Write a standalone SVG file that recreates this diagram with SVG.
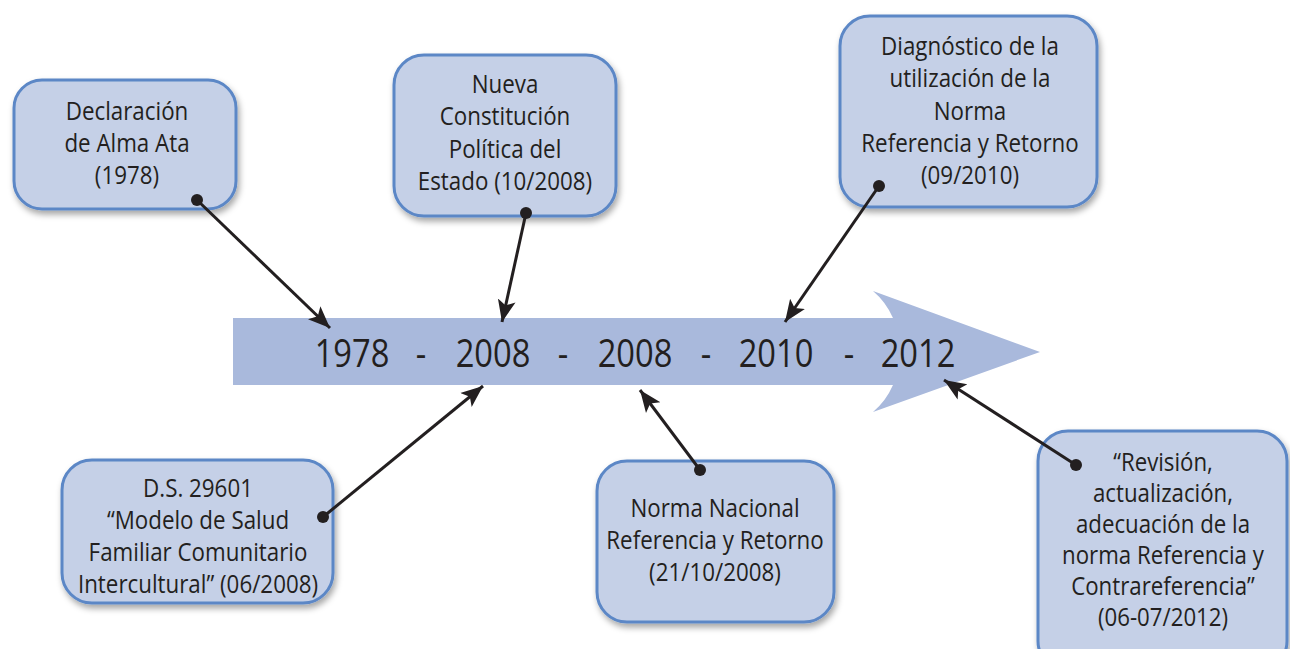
<svg xmlns="http://www.w3.org/2000/svg" width="1290" height="649" viewBox="0 0 1290 649">
<defs>
<filter id="sh" x="-10%" y="-10%" width="125%" height="130%">
<feDropShadow dx="2" dy="4" stdDeviation="3" flood-color="#000" flood-opacity="0.35"/>
</filter>
<marker id="ah" markerWidth="24" markerHeight="20" viewBox="0 0 24 20" refX="22" refY="10" orient="auto" markerUnits="userSpaceOnUse">
<path d="M0,1 L22,10 L0,19 L5,10 Z" fill="#231f20"/>
</marker>
<style>
.box{fill:#c5d0e7;stroke:#5b87c6;stroke-width:3;filter:url(#sh)}
.t{font-family:"Open Sans",Lato,"Liberation Sans",sans-serif;font-size:26px;fill:#231f20;text-anchor:middle}
.s{font-size:25px}
.y{font-family:"Open Sans",Lato,"Liberation Sans",sans-serif;font-size:38px;fill:#231f20;text-anchor:middle}
.c{stroke:#231f20;stroke-width:3;fill:none;marker-end:url(#ah)}
.d{fill:#231f20}
</style>
</defs>
<rect width="1290" height="649" fill="#fff"/>
<g id="timeline">
<path d="M233,318 L893,318 Q886,302 873,291 L1040,352 L873,412 Q886,401 893,385 L233,385 Z" fill="#a9b9dc"/>
<g transform="translate(352 0) scale(0.86 1)"><text class="y" x="0" y="367">1978</text></g>
<g transform="translate(421 0) scale(0.86 1)"><text class="y" x="0" y="367">-</text></g>
<g transform="translate(493 0) scale(0.86 1)"><text class="y" x="0" y="367">2008</text></g>
<g transform="translate(563 0) scale(0.86 1)"><text class="y" x="0" y="367">-</text></g>
<g transform="translate(635 0) scale(0.86 1)"><text class="y" x="0" y="367">2008</text></g>
<g transform="translate(706 0) scale(0.86 1)"><text class="y" x="0" y="367">-</text></g>
<g transform="translate(776 0) scale(0.86 1)"><text class="y" x="0" y="367">2010</text></g>
<g transform="translate(849 0) scale(0.86 1)"><text class="y" x="0" y="367">-</text></g>
<g transform="translate(918 0) scale(0.86 1)"><text class="y" x="0" y="367">2012</text></g>
</g>
<g id="n1">
<rect class="box" x="14" y="80" width="222" height="129" rx="28"/>
<g transform="translate(127 0) scale(0.86 1)">
<text class="t" x="0" y="120">Declaración</text>
<text class="t" x="0" y="152">de Alma Ata</text>
<text class="t" x="0" y="184">(1978)</text>
</g>
</g>
<g id="n2">
<rect class="box" x="394" y="55" width="222" height="161" rx="30"/>
<g transform="translate(505 0) scale(0.86 1)">
<text class="t" x="0" y="93">Nueva</text>
<text class="t" x="0" y="125">Constitución</text>
<text class="t" x="0" y="158">Política del</text>
<text class="t" x="0" y="190">Estado (10/2008)</text>
</g>
</g>
<g id="n3">
<rect class="box" x="840" y="16" width="257" height="191" rx="30"/>
<g transform="translate(970 0) scale(0.86 1)">
<text class="t" x="0" y="55">Diagnóstico de la</text>
<text class="t" x="0" y="87">utilización de la</text>
<text class="t" x="0" y="120">Norma</text>
<text class="t" x="0" y="152">Referencia y Retorno</text>
<text class="t" x="0" y="184">(09/2010)</text>
</g>
</g>
<g id="n4">
<rect class="box" x="62" y="460" width="271" height="143" rx="30"/>
<g transform="translate(198 0) scale(0.86 1)">
<text class="t" x="0" y="497">D.S. 29601</text>
<text class="t" x="0" y="529">“Modelo de Salud</text>
<text class="t" x="0" y="561">Familiar Comunitario</text>
<text class="t" x="0" y="593">Intercultural” (06/2008)</text>
</g>
</g>
<g id="n5">
<rect class="box" x="597" y="461" width="237" height="161" rx="30"/>
<g transform="translate(715 0) scale(0.86 1)">
<text class="t" x="0" y="517">Norma Nacional</text>
<text class="t" x="0" y="549">Referencia y Retorno</text>
<text class="t" x="0" y="581">(21/10/2008)</text>
</g>
</g>
<g id="n6">
<rect class="box" x="1038" y="431" width="249" height="240" rx="30"/>
<g transform="translate(1163 0) scale(0.89 1)">
<text class="t s" x="0" y="471">“Revisión,</text>
<text class="t s" x="0" y="502">actualización,</text>
<text class="t s" x="0" y="533">adecuación de la</text>
<text class="t s" x="0" y="564">norma Referencia y</text>
<text class="t s" x="0" y="595">Contrareferencia”</text>
<text class="t s" x="0" y="626">(06-07/2012)</text>
</g>
</g>
<g id="connectors">
<line class="c" x1="197" y1="200" x2="330" y2="328"/>
<circle class="d" cx="197" cy="200" r="6"/>
<line class="c" x1="526" y1="213" x2="502" y2="322"/>
<circle class="d" cx="526" cy="213" r="6"/>
<line class="c" x1="879" y1="186" x2="785" y2="322"/>
<circle class="d" cx="879" cy="186" r="6"/>
<line class="c" x1="323" y1="517" x2="483" y2="386"/>
<circle class="d" cx="323" cy="517" r="6"/>
<line class="c" x1="700" y1="470" x2="640" y2="390"/>
<circle class="d" cx="700" cy="470" r="6"/>
<line class="c" x1="1076" y1="465" x2="944" y2="380"/>
<circle class="d" cx="1076" cy="465" r="6"/>
</g>
</svg>
